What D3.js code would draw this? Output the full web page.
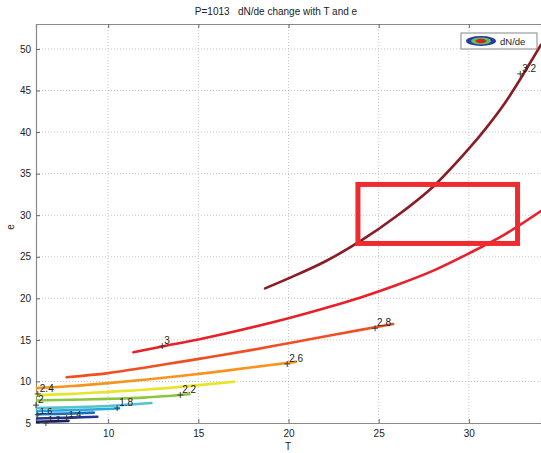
<!DOCTYPE html>
<html><head><meta charset="utf-8">
<script src="https://cdn.jsdelivr.net/npm/d3@7"></script>
<style>
html,body{margin:0;padding:0;background:#fff;}
svg{display:block;font-family:"Liberation Sans",Arial,sans-serif;}
</style></head>
<body>
<svg id="chart" width="541" height="453"></svg>
<script>
const title = "P=1013   dN/de change with T and e";
const xTicks = [10, 15, 20, 25, 30];
const yTicks = [5, 10, 15, 20, 25, 30, 35, 40, 45, 50];
const levels = [1.2, 1.4, 1.6, 1.8, 2.0, 2.2, 2.4, 2.6, 2.8, 3.0, 3.2];
const levelColors = ["#1c1f6b", "#24358f", "#1b6fb8", "#2aa8e0", "#55c3cc", "#8cc63f", "#e6e52b", "#f7941d", "#f04e23", "#e8202a", "#8a1c24"];
const line12 = [[6,5.15],[7,5.2],[7.8,5.25]];
const line14 = [[6,5.55],[8,5.65],[9.4,5.75]];
const line16 = [[6,6.05],[8,6.15],[9.2,6.25]];
const line18 = [[6,6.45],[8,6.55],[10.6,6.75]];
const line20 = [[6,6.8],[8,6.9],[10,7.05],[12.4,7.4]];
const line22 = [[6,7.7],[8,7.8],[10,7.9],[12,8.05],[14.5,8.45]];
const line24 = [[6,8.35],[8,8.5],[10,8.75],[12,9.0],[14,9.35],[17,9.97]];
const line26 = [[6,9.2],[8,9.45],[10,9.8],[12,10.2],[14,10.65],[16,11.15],[18,11.7],[20.4,12.35]];
const line28 = [[7.7,10.5],[10,11.0],[12,11.65],[14,12.35],[16,13.05],[18,13.8],[20,14.6],[22,15.4],[24,16.2],[25.8,16.9]];
const line30 = [[11.4,13.5],[13,14.2],[15,15.05],[17,16.0],[20,17.6],[22,18.8],[24,20.1],[26,21.6],[28,23.3],[30,25.4],[32,27.7],[34,30.5]];
const line32 = [[18.7,21.2],[20,22.4],[22,24.4],[24,26.9],[26,29.9],[28,33.4],[30,38.0],[31,40.6],[32,43.5],[33,46.9],[34,50.5]];
const contourLines = [line12, line14, line16, line18, line20, line22, line24, line26, line28, line30, line32];
// label "+" marker positions (T, e) and label text
const labelText = ["1.2", "1.4", "1.6", "1.8", "2", "2.2", "2.4", "2.6", "2.8", "3", "3.2"];
const labelT = [6.55, 7.7, 6.1, 10.5, 6.0, 14.0, 6.1, 19.93, 24.8, 13.0, 32.85];
const labelE = [5.0, 5.6, 6.0, 6.8, 7.15, 8.37, 8.5, 12.1, 16.4, 14.25, 47.0];
// annotation rectangle in data units
const boxT = [23.85, 32.7];
const boxE = [26.6, 33.7];
const legendLabel = "dN/de";

const svg = d3.select("#chart");
const L = 36, R = 541, T0 = 24, B = 423;
const x = d3.scaleLinear().domain([6, 34]).range([L, R]);
const y = d3.scaleLinear().domain([5, 53]).range([B, T0]);

svg.append("text").attr("x", 276).attr("y", 15).attr("text-anchor", "middle")
  .attr("font-size", 10).attr("fill", "#222").style("white-space", "pre").text(title);

// grid
const grid = svg.append("g");
grid.selectAll(".gx").data(xTicks).join("line")
  .attr("x1", d => x(d)).attr("x2", d => x(d)).attr("y1", T0).attr("y2", B)
  .attr("stroke", "#b8b8b8").attr("stroke-width", 0.8).attr("stroke-dasharray", "1,2");
grid.selectAll(".gy").data(yTicks.filter(d => d > 5)).join("line")
  .attr("x1", L).attr("x2", R).attr("y1", d => y(d)).attr("y2", d => y(d))
  .attr("stroke", "#b8b8b8").attr("stroke-width", 0.8).attr("stroke-dasharray", "1,2");

// axes
const xAxis = d3.axisBottom(x).tickValues(xTicks).tickSize(-4).tickPadding(7).tickFormat(d3.format("d"));
const gx = svg.append("g").attr("transform", `translate(0,${B})`).call(xAxis);
const yAxis = d3.axisLeft(y).tickValues(yTicks).tickSize(-4).tickPadding(5).tickFormat(d3.format("d"));
const gy = svg.append("g").attr("transform", `translate(${L},0)`).call(yAxis);
const xTop = d3.axisTop(x).tickValues(xTicks).tickSize(-4).tickFormat("");
const gt = svg.append("g").attr("transform", `translate(0,${T0})`).call(xTop);
[gx, gy, gt].forEach(g => {
  g.select(".domain").attr("stroke", "#8a8a8a").attr("stroke-width", 1.2);
  g.selectAll(".tick line").attr("stroke", "#666");
  g.selectAll(".tick text").attr("font-size", 10).attr("fill", "#222")
    .attr("font-family", "Liberation Sans, Arial, sans-serif");
});

// axis labels
svg.append("text").attr("x", 288).attr("y", 450).attr("text-anchor", "middle")
  .attr("font-size", 10).attr("fill", "#222").text("T");
svg.append("text").attr("transform", "translate(14,227) rotate(-90)").attr("text-anchor", "middle")
  .attr("font-size", 10).attr("fill", "#222").text("e");

// contour lines
const lineGen = d3.line().x(d => x(d[0])).y(d => y(d[1])).curve(d3.curveCatmullRom.alpha(0.5));
svg.append("clipPath").attr("id", "clip").append("rect")
  .attr("x", L).attr("y", T0).attr("width", R - L).attr("height", B - T0);
svg.append("g").attr("clip-path", "url(#clip)")
  .selectAll("path").data(contourLines).join("path")
  .attr("d", lineGen).attr("fill", "none")
  .attr("stroke", (d, i) => levelColors[i]).attr("stroke-width", 2.6).attr("stroke-linecap", "round");

// labels
const lab = svg.append("g");
levels.forEach((lv, i) => {
  const px = x(labelT[i]), py = y(labelE[i]);
  const small = lv < 1.7;
  lab.append("path").attr("d", `M${px-3},${py}H${px+3}M${px},${py-3}V${py+3}`)
    .attr("stroke", "#333").attr("stroke-width", 0.9);
  lab.append("text").attr("x", px + 2).attr("y", py - (small ? 1 : 2)).attr("font-size", small ? 9 : 10)
    .attr("fill", "#222").text(labelText[i]);
});

// legend
const lg = svg.append("g");
lg.append("rect").attr("x", 461).attr("y", 33).attr("width", 76).attr("height", 16)
  .attr("fill", "#fff").attr("stroke", "#888").attr("stroke-width", 1);
lg.append("ellipse").attr("cx", 481).attr("cy", 41).attr("rx", 15).attr("ry", 5)
  .attr("fill", "#2b3aa0");
lg.append("ellipse").attr("cx", 481).attr("cy", 41).attr("rx", 10).attr("ry", 3.4)
  .attr("fill", "#5cc45a");
lg.append("ellipse").attr("cx", 481).attr("cy", 41).attr("rx", 5.5).attr("ry", 2.2)
  .attr("fill", "#d8202a");
lg.append("text").attr("x", 500).attr("y", 45).attr("font-size", 9.5).attr("fill", "#222").text(legendLabel);

// annotation box
svg.append("rect").attr("x", x(boxT[0])).attr("y", y(boxE[1]))
  .attr("width", x(boxT[1]) - x(boxT[0])).attr("height", y(boxE[0]) - y(boxE[1]))
  .attr("fill", "none").attr("stroke", "#ee2b2f").attr("stroke-width", 5);
</script>
</body></html>
